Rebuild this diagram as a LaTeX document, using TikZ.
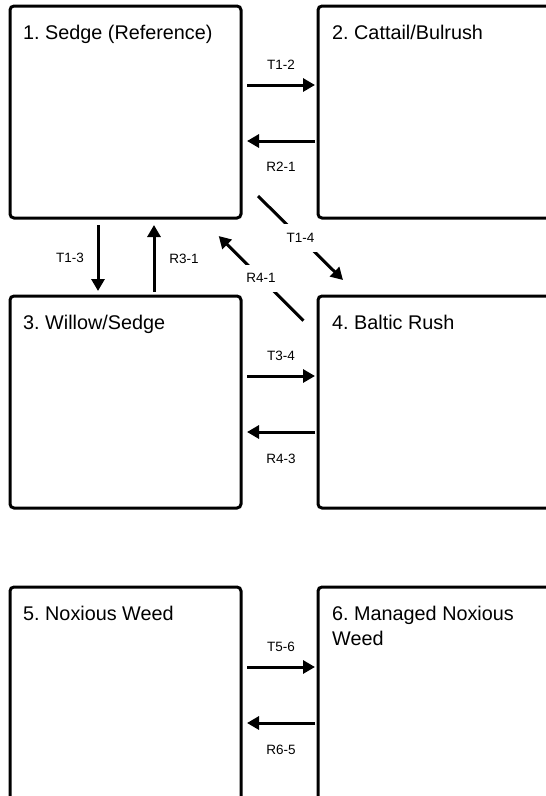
\documentclass[tikz,border=0pt]{standalone}
\usepackage{fontspec}
\setmainfont{Liberation Sans}
\usetikzlibrary{arrows.meta,calc}
\frenchspacing
\begin{document}
\begin{tikzpicture}[x=1pt,y=1pt,
  box/.style={draw, line width=3pt, rounded corners=4pt, minimum width=231pt, minimum height=212pt, anchor=north west, outer sep=0pt, inner sep=0pt},
  wbox/.style={box, minimum width=260pt},
  title/.style={anchor=base west, inner sep=0pt, font=\fontsize{19.8}{25.7}\selectfont},
  lbl/.style={font=\fontsize{13.5}{16}\selectfont, inner sep=0pt},
  glbl/.style={lbl, fill=white, inner xsep=3pt, inner ysep=9pt},
  arr/.style={line width=3pt, -{Triangle[length=12pt,width=13pt]}},
]
\useasboundingbox (0,0) rectangle (546,-796);
\fill[white] (0,0) rectangle (546,-796);
\clip (0,0) rectangle (546,-796);
% boxes
\node[box] (b1) at (10,-6) {};
\node[wbox] (b2) at (318,-6) {};
\node[box] (b3) at (10,-296) {};
\node[wbox] (b4) at (318,-296) {};
\node[box, minimum height=240pt] (b5) at (10,-587) {};
\node[wbox, minimum height=240pt] (b6) at (318,-587) {};
% titles
\node[title] (t1) at ($(b1.north west)+(13,-33)$) {1. Sedge (Reference)};
\node[title] (t2) at ($(b2.north west)+(14,-33)$) {2. Cattail/Bulrush};
\node[title] (t3) at ($(b3.north west)+(13,-33)$) {3. Willow/Sedge};
\node[title] (t4) at ($(b4.north west)+(14,-33)$) {4. Baltic Rush};
\node[title] (t5) at ($(b5.north west)+(13,-33)$) {5. Noxious Weed};
\node[title] (t6) at ($(b6.north west)+(14,-33)$) {\vtop{\hbox{6. Managed Noxious}\hbox{Weed}}};
% horizontal arrows
\draw[arr] ($(b1.north east)+(6,-79)$) -- ($(b2.north west)+(-3,-79)$) node[lbl, midway, yshift=20pt] {T1-2};
\draw[arr] ($(b2.north west)+(-3,-135)$) -- ($(b1.north east)+(6,-135)$) node[lbl, midway, yshift=-26pt] {R2-1};
\draw[arr] ($(b3.north east)+(6,-80)$) -- ($(b4.north west)+(-3,-80)$) node[lbl, midway, yshift=20pt] {T3-4};
\draw[arr] ($(b4.north west)+(-3,-136)$) -- ($(b3.north east)+(6,-136)$) node[lbl, midway, yshift=-27pt] {R4-3};
\draw[arr] ($(b5.north east)+(6,-80)$) -- ($(b6.north west)+(-3,-80)$) node[lbl, midway, yshift=20pt] {T5-6};
\draw[arr] ($(b6.north west)+(-3,-136)$) -- ($(b5.north east)+(6,-136)$) node[lbl, midway, yshift=-27pt] {R6-5};
% vertical arrows
\draw[arr] ($(b1.south west)+(88,-7)$) -- ($(b3.north west)+(88,5)$) node[lbl, midway, xshift=-28pt] {T1-3};
\draw[arr] ($(b3.north west)+(144,4)$) -- ($(b1.south west)+(144,-7)$) node[lbl, midway, xshift=30pt] {R3-1};
% diagonal arrows
\draw[arr] ($(b1.south east)+(17,22)$) -- ($(b4.north west)+(25,16)$) node[glbl, midway] {T1-4};
\draw[arr] ($(b4.north west)+(-14.5,-24.7)$) -- ($(b1.south east)+(-22.3,-18)$) node[glbl, midway] {R4-1};
\end{tikzpicture}
\end{document}
